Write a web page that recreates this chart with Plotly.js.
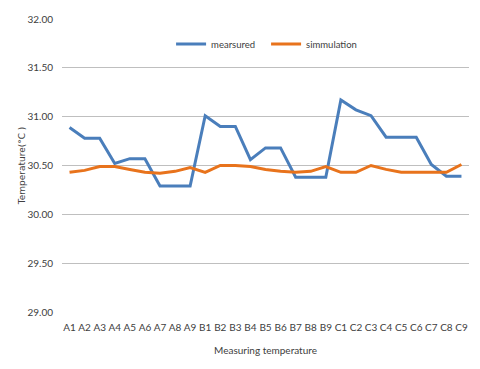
<!DOCTYPE html>
<html>
<head>
<meta charset="utf-8">
<script src="https://cdn.plot.ly/plotly-3.0.1.min.js"></script>
<style>html,body{margin:0;padding:0;background:#fff;}#chart{width:480px;height:369px;}</style>
</head>
<body>
<div id="chart"></div>
<script>
const categories = ["A1","A2","A3","A4","A5","A6","A7","A8","A9","B1","B2","B3","B4","B5","B6","B7","B8","B9","C1","C2","C3","C4","C5","C6","C7","C8","C9"];
const measured = [30.89,30.78,30.78,30.52,30.57,30.57,30.29,30.29,30.29,31.01,30.90,30.90,30.56,30.68,30.68,30.38,30.38,30.38,31.17,31.07,31.01,30.79,30.79,30.79,30.51,30.39,30.39];
const simulation = [30.43,30.45,30.49,30.49,30.46,30.43,30.42,30.44,30.48,30.43,30.50,30.50,30.49,30.46,30.44,30.43,30.44,30.49,30.43,30.43,30.50,30.46,30.43,30.43,30.43,30.43,30.51];
const yTicks = [29.0,29.5,30.0,30.5,31.0,31.5,32.0];
const yTickText = yTicks.map(v => v.toFixed(2));

const font = "Lato, 'Open Sans', sans-serif";
const traces = [
  {x: categories, y: measured, name: "mearsured", type: "scatter", mode: "lines",
   line: {color: "#4a7ebb", width: 3}},
  {x: categories, y: simulation, name: "simmulation", type: "scatter", mode: "lines",
   line: {color: "#e8731c", width: 3}}
];
const layout = {
  width: 480, height: 369,
  margin: {l: 62, r: 11, t: 19, b: 57},
  paper_bgcolor: "#fff", plot_bgcolor: "#fff",
  font: {family: font, size: 10, color: "#404040"},
  showlegend: true,
  legend: {orientation: "h", x: 0.268, y: 0.915, xanchor: "left", yanchor: "middle",
           font: {family: font, size: 9.5, color: "#404040"}, bgcolor: "rgba(0,0,0,0)",
           itemwidth: 30, entrywidth: 50, tracegroupgap: 0},
  xaxis: {type: "category", range: [-0.5, 26.5], showgrid: false, zeroline: false, showline: false, ticks: "",
          tickfont: {family: font, size: 10, color: "#404040"}, ticklabelstandoff: 8,
          title: {text: "Measuring temperature", font: {family: font, size: 10, color: "#404040"}, standoff: 14}},
  yaxis: {range: [29, 32], tickvals: yTicks, ticktext: yTickText, showgrid: true,
          gridcolor: "#bfbfbf", gridwidth: 1, zeroline: false, showline: false, ticks: "",
          tickfont: {family: font, size: 10, color: "#404040"}, ticklabelstandoff: 8,
          title: {text: "Temperature(°C )", font: {family: "'DejaVu Sans', sans-serif", size: 9, color: "#404040"}, standoff: 0}}
};
Plotly.newPlot("chart", traces, layout, {displayModeBar: false, staticPlot: true});
</script>
</body>
</html>
